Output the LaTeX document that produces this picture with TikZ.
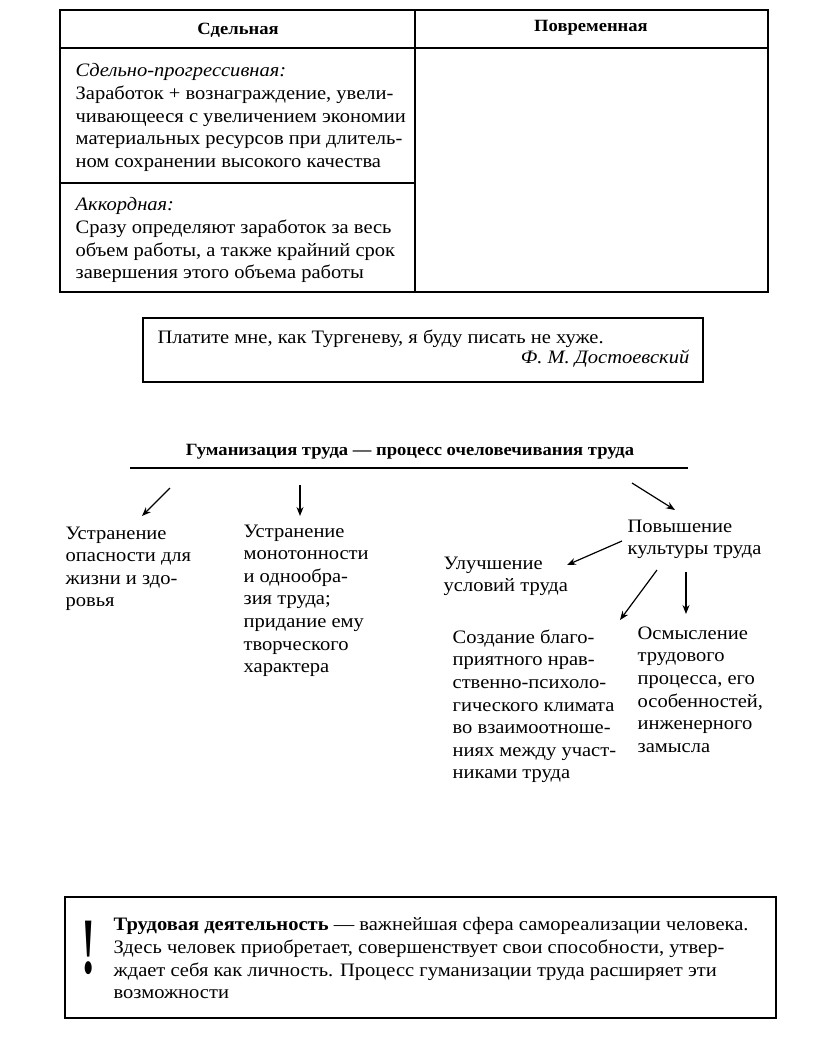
\documentclass[tikz,border=0pt]{standalone}
\usepackage{fontspec}
\usepackage{graphicx}
\setmainfont{Liberation Serif}[FakeStretch=1.08]
\usetikzlibrary{arrows.meta}
\begin{document}
\begin{tikzpicture}[x=1pt,y=-1pt,line width=1.3pt,
  txt/.style={inner sep=0pt,anchor=north west,align=left,font=\fontsize{19}{22.6}\selectfont},
  hdr/.style={inner sep=0pt,font=\fontsize{17.2}{20}\selectfont\bfseries},
  arr/.style={-{Stealth[length=9pt,width=7pt]},line width=1.2pt}]
\useasboundingbox (0,0) rectangle (816,1060);
% table
\draw (60,10) rectangle (768,292);
\draw (60,48) -- (768,48);
\draw (415,10) -- (415,292);
\draw (60,183) -- (415,183);
\node[hdr] (sd) at (238,30) {Сдельная};
\node[hdr] (pv) at (591,28) {Повременная};
\node[txt] (r1) at (75,63) {\textit{Сдельно-прогрессивная:}\\Заработок + вознаграждение, увели-\\чивающееся с увеличением экономии\\материальных ресурсов при длитель-\\ном сохранении высокого качества};
\node[txt] (r2) at (75,197) {\textit{Аккордная:}\\Сразу определяют заработок за весь\\объем работы, а также крайний срок\\завершения этого объема работы};
% quote
\draw (143,318) rectangle (703,382);
\node[txt] (q) at (157,329) {Платите мне, как Тургеневу, я буду писать не хуже.};
\node[txt,anchor=north east] (qa) at (690,349) {\textit{Ф. М. Достоевский}};
% humanization
\node[hdr] (title) at (410,452) {Гуманизация труда — процесс очеловечивания труда};
\coordinate (ul1) at (130,468); \coordinate (ul2) at (688,468);
\draw (ul1) -- (ul2);
\node[txt] (a) at (65,526) {Устранение\\опасности для\\жизни и здо-\\ровья};
\node[txt] (b) at (243,524) {Устранение\\монотонности\\и однообра-\\зия труда;\\придание ему\\творческого\\характера};
\node[txt] (c) at (627,519) {Повышение\\культуры труда};
\node[txt] (c1) at (443,556) {Улучшение\\условий труда};
\node[txt] (c2) at (452,629) {Создание благо-\\приятного нрав-\\ственно-психоло-\\гического климата\\во взаимоотноше-\\ниях между участ-\\никами труда};
\node[txt] (c3) at (637,626) {Осмысление\\трудового\\процесса, его\\особенностей,\\инженерного\\замысла};
\coordinate (s1) at (170,488); \coordinate (e1) at (142,516);
\coordinate (s2) at (300,485); \coordinate (e2) at (300,516);
\coordinate (s3) at (632,483); \coordinate (e3) at (675,510);
\coordinate (s4) at (622,541); \coordinate (e4) at (567,565);
\coordinate (s5) at (657,570); \coordinate (e5) at (620,620);
\coordinate (s6) at (686,572); \coordinate (e6) at (686,614);
\draw[arr] (s1) -- (e1);
\draw[arr] (s2) -- (e2);
\draw[arr] (s3) -- (e3);
\draw[arr] (s4) -- (e4);
\draw[arr] (s5) -- (e5);
\draw[arr] (s6) -- (e6);
% bottom box
\draw (65,897) rectangle (776,1018);
\node[inner sep=0pt] (ex) at (89,948) {\scalebox{0.5}[1]{\fontsize{80}{80}\selectfont\bfseries !}};
\node[txt] (bt) at (113,917) {\textbf{Трудовая деятельность} — важнейшая сфера самореализации человека.\\Здесь человек приобретает, совершенствует свои способности, утвер-\\ждает себя как личность. Процесс гуманизации труда расширяет эти\\возможности};
\end{tikzpicture}
\end{document}
